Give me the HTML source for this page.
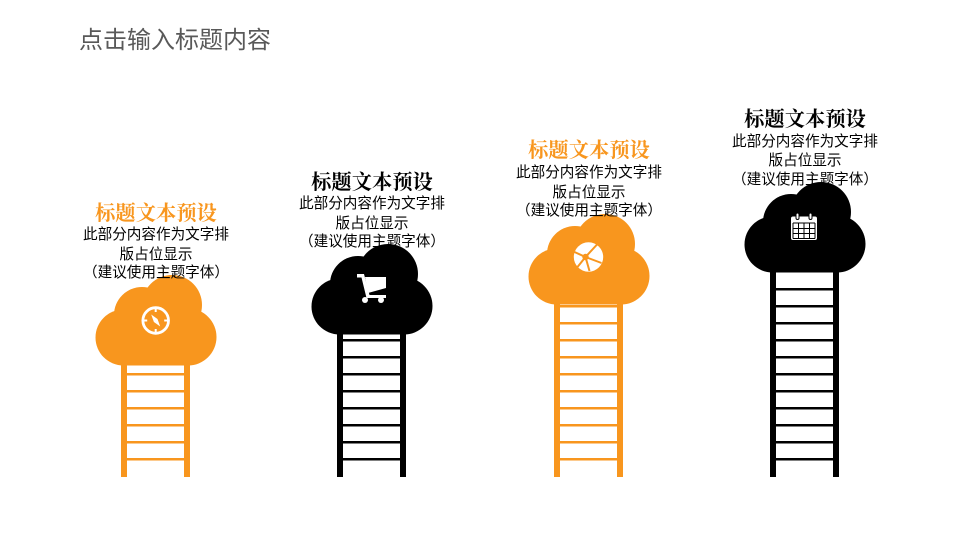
<!DOCTYPE html>
<html><head><meta charset="utf-8"><style>
html,body{margin:0;padding:0;background:#fff;width:960px;height:540px;overflow:hidden}
svg{display:block}
.t{font-family:"Liberation Sans","Noto Sans CJK SC",sans-serif;font-size:24px;fill:#595959}
.h{font-family:"Liberation Serif","Noto Serif CJK SC",serif;font-size:20.3px;font-weight:700;text-anchor:middle}
.b{font-family:"Liberation Sans","Noto Sans CJK SC",sans-serif;font-size:14.6px;fill:#000;text-anchor:middle}
</style></head><body>
<svg width="960" height="540" viewBox="0 0 960 540" xmlns="http://www.w3.org/2000/svg">
<defs>
<g id="cloud">
<circle cx="123.500" cy="337.500" r="28"/><circle cx="142" cy="315" r="28"/><circle cx="172" cy="305" r="30"/><circle cx="188" cy="337" r="28.500"/><rect x="123" y="310" width="65" height="55.500"/>
</g>
<g id="rails"><rect x="121" y="260" width="6" height="217"/><rect x="184" y="260" width="6" height="217"/></g>
</defs>
<text class="t" x="79" y="48">点击输入标题内容</text>

<!-- Ladder 1 -->
<g fill="#F8961E">
<rect x="121" y="360" width="6" height="117"/><rect x="184" y="360" width="6" height="117"/>
<rect x="121" y="373" width="69" height="2.500"/><rect x="121" y="390" width="69" height="2.500"/><rect x="121" y="407" width="69" height="2.500"/><rect x="121" y="424" width="69" height="2.500"/><rect x="121" y="441" width="69" height="2.500"/><rect x="121" y="458" width="69" height="2.500"/>
<use href="#cloud"/>
</g>
<!-- Ladder 2 -->
<g fill="#000" transform="translate(216,0)">
<rect x="121" y="329" width="6" height="148"/><rect x="184" y="329" width="6" height="148"/>
<rect x="121" y="339" width="69" height="2.500"/><rect x="121" y="356" width="69" height="2.500"/><rect x="121" y="373" width="69" height="2.500"/><rect x="121" y="390" width="69" height="2.500"/><rect x="121" y="407" width="69" height="2.500"/><rect x="121" y="424" width="69" height="2.500"/><rect x="121" y="441" width="69" height="2.500"/><rect x="121" y="458" width="69" height="2.500"/>
<use href="#cloud" y="-31"/>
</g>
<!-- Ladder 3 -->
<g fill="#F8961E" transform="translate(433,0)">
<rect x="121" y="299" width="6" height="178"/><rect x="184" y="299" width="6" height="178"/>
<rect x="121" y="305" width="69" height="2.500"/><rect x="121" y="322" width="69" height="2.500"/><rect x="121" y="339" width="69" height="2.500"/><rect x="121" y="356" width="69" height="2.500"/><rect x="121" y="373" width="69" height="2.500"/><rect x="121" y="390" width="69" height="2.500"/><rect x="121" y="407" width="69" height="2.500"/><rect x="121" y="424" width="69" height="2.500"/><rect x="121" y="441" width="69" height="2.500"/><rect x="121" y="458" width="69" height="2.500"/>
<use href="#cloud" y="-61"/>
</g>
<!-- Ladder 4 -->
<g fill="#000" transform="translate(649,0)">
<rect x="121" y="267" width="6" height="210"/><rect x="184" y="267" width="6" height="210"/>
<rect x="121" y="288" width="69" height="2.500"/><rect x="121" y="305" width="69" height="2.500"/><rect x="121" y="322" width="69" height="2.500"/><rect x="121" y="339" width="69" height="2.500"/><rect x="121" y="356" width="69" height="2.500"/><rect x="121" y="373" width="69" height="2.500"/><rect x="121" y="390" width="69" height="2.500"/><rect x="121" y="407" width="69" height="2.500"/><rect x="121" y="424" width="69" height="2.500"/><rect x="121" y="441" width="69" height="2.500"/><rect x="121" y="458" width="69" height="2.500"/>
<use href="#cloud" y="-93"/>
</g>

<!-- compass icon -->
<g transform="translate(155.700,320.500)">
<circle r="12.800" fill="none" stroke="#fff" stroke-width="2.800"/>
<path d="M-4.500,-6 L1.800,-1.500 L4.500,6 L-1.800,1.500Z" fill="#fff"/>
<path d="M0,-13V-8.500M0,13V8.500M-13,0H-8.500M13,0H8.500" stroke="#fff" stroke-width="2"/>
</g>
<!-- cart icon -->
<path d="M357,274H364L369.500,295H386V298H366.500L361.500,277.500H357Z" fill="#fff"/>
<path d="M365,277H386V288L368,293Z" fill="#fff"/>
<circle cx="365" cy="300" r="3" fill="#fff"/><circle cx="381" cy="300" r="3" fill="#fff"/>
<!-- globe icon -->
<g transform="translate(588.500,257)">
<circle r="14.700" fill="#fff"/>
<path d="M-14,-5L-3,0L9,-13M-3,0L1,14M-3,0L13,6M-3,0L-11,10" stroke="#F8961E" stroke-width="2" fill="none"/>
<circle cx="-3" cy="0" r="3.200" fill="#F8961E"/>
</g>
<!-- calendar icon -->
<g transform="translate(804,227)">
<rect x="-13" y="-10.500" width="26" height="23.500" rx="2" fill="#fff"/>
<rect x="-8" y="-14" width="3" height="6.500" rx="1.500" fill="#fff" stroke="#000" stroke-width="1"/><rect x="5" y="-14" width="3" height="6.500" rx="1.500" fill="#fff" stroke="#000" stroke-width="1"/>
<path d="M-11,-4H11M-11,1.500H11M-11,6.500H11M-11,11.500H11M-11,-4V11.500M-5.500,-4V11.500M0,-4V11.500M5.500,-4V11.500M11,-4V11.500" stroke="#000" stroke-width="1" fill="none"/>
</g>

<!-- Text -->
<g>
<text class="h" x="156" y="220" fill="#F8961E">标题文本预设</text>
<text class="b" x="156" y="239">此部分内容作为文字排</text>
<text class="b" x="156" y="259">版占位显示</text>
<text class="b" x="156" y="277">（建议使用主题字体）</text>
</g>
<g>
<text class="h" x="372" y="189" fill="#000">标题文本预设</text>
<text class="b" x="372" y="208">此部分内容作为文字排</text>
<text class="b" x="372" y="228">版占位显示</text>
<text class="b" x="372" y="246">（建议使用主题字体）</text>
</g>
<g>
<text class="h" x="589" y="157" fill="#F8961E">标题文本预设</text>
<text class="b" x="589" y="177">此部分内容作为文字排</text>
<text class="b" x="589" y="197">版占位显示</text>
<text class="b" x="589" y="215">（建议使用主题字体）</text>
</g>
<g>
<text class="h" x="805" y="126" fill="#000">标题文本预设</text>
<text class="b" x="805" y="146">此部分内容作为文字排</text>
<text class="b" x="805" y="165">版占位显示</text>
<text class="b" x="805" y="184">（建议使用主题字体）</text>
</g>
</svg>
</body></html>
